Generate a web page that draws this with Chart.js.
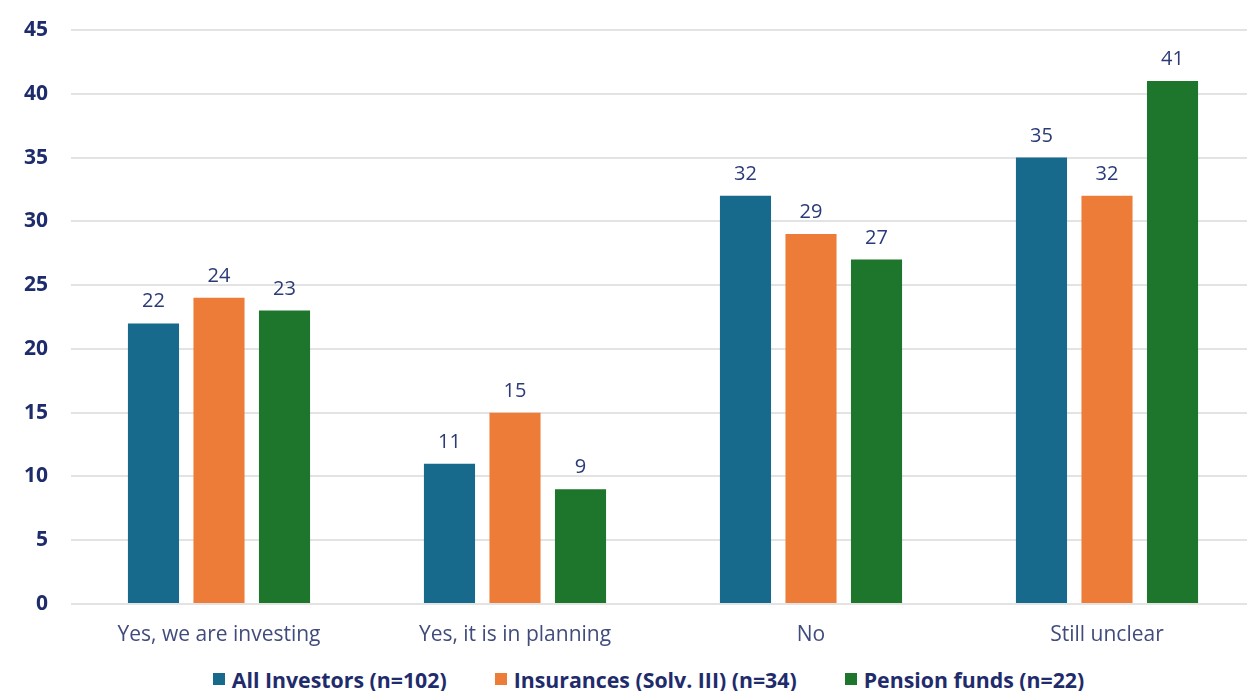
<!DOCTYPE html>
<html>
<head>
<meta charset="utf-8">
<script src="https://cdn.jsdelivr.net/npm/chart.js@4"></script>
<style>
  html, body { margin: 0; padding: 0; background: #fff; overflow: hidden; }
  #wrap { position: absolute; left: 0; top: 0; width: 1255px; height: 662px; }
  #legend {
    position: absolute; left: 0; top: 666px; width: 1247px; height: 26px;
    box-sizing: border-box; padding-left: 50px;
    display: flex; justify-content: center; align-items: center;
    font-family: "Open Sans", "Noto Sans", sans-serif; font-size: 21.3px; font-weight: bold;
    color: #1f2c6c;
  }
  #legend .item { display: flex; align-items: center; margin: 0 24px; white-space: nowrap; }
  #legend .box { width: 12px; height: 12px; margin-right: 7px; }
</style>
</head>
<body>
<div id="wrap"><canvas id="investChart"></canvas></div>
<div id="legend"></div>
<script>
var categories = ['Yes, we are investing', 'Yes, it is in planning', 'No', 'Still unclear'];
var allInvestors = [22, 11, 32, 35];
var insurances = [24, 15, 29, 32];
var pensionFunds = [23, 9, 27, 41];
var seriesNames = ['All Investors (n=102)', 'Insurances (Solv. III) (n=34)', 'Pension funds (n=22)'];
var seriesColors = ['#176a8b', '#ee7c39', '#1e752c'];
var yTicks = [0, 5, 10, 15, 20, 25, 30, 35, 40, 45];

var FONT = '"Open Sans", "Noto Sans", sans-serif';

// draws the value on top of each bar
var barValues = {
    id: 'barValues',
    afterDatasetsDraw: function(chart) {
        var ctx = chart.ctx;
        ctx.save();
        ctx.font = '20px ' + FONT;
        ctx.fillStyle = '#2b3a78';
        ctx.textAlign = 'center';
        ctx.textBaseline = 'alphabetic';
        chart.data.datasets.forEach(function(ds, i) {
            chart.getDatasetMeta(i).data.forEach(function(bar, j) {
                ctx.fillText(ds.data[j], bar.x, bar.y - 16);
            });
        });
        ctx.restore();
    }
};

// legend built from the chart datasets, placed under the canvas
function buildLegend(chart) {
    var legendDiv = document.getElementById('legend');
    legendDiv.innerHTML = '';
    chart.data.datasets.forEach(function(ds) {
        var item = document.createElement('div');
        item.className = 'item';
        var box = document.createElement('span');
        box.className = 'box';
        box.style.background = ds.backgroundColor;
        var text = document.createElement('span');
        text.textContent = ds.label;
        item.appendChild(box);
        item.appendChild(text);
        legendDiv.appendChild(item);
    });
}

function createChart() {
    var canvas = document.getElementById('investChart');
    var chart = new Chart(canvas, {
        type: 'bar',
        data: {
            labels: categories,
            datasets: [{
                label: seriesNames[0],
                data: allInvestors,
                backgroundColor: seriesColors[0]
            }, {
                label: seriesNames[1],
                data: insurances,
                backgroundColor: seriesColors[1]
            }, {
                label: seriesNames[2],
                data: pensionFunds,
                backgroundColor: seriesColors[2]
            }]
        },
        options: {
            responsive: true,
            maintainAspectRatio: false,
            animation: false,
            categoryPercentage: 0.664,
            barPercentage: 0.78,
            layout: { padding: { top: 30, right: 0, left: 0, bottom: 0 } },
            plugins: {
                legend: { display: false },
                tooltip: { enabled: false }
            },
            scales: {
                x: {
                    grid: { display: false },
                    border: { display: false },
                    ticks: {
                        color: '#414c7c',
                        padding: 10,
                        font: { family: FONT, size: 21 }
                    },
                    afterFit: function(scale) { scale.height = 58; }
                },
                y: {
                    min: 0,
                    max: 45,
                    afterBuildTicks: function(scale) {
                        scale.ticks = yTicks.map(function(v) { return { value: v }; });
                    },
                    grid: { color: '#e3e3e3', lineWidth: 2, drawTicks: false },
                    border: { display: false },
                    ticks: {
                        color: '#1f2c6c',
                        padding: 23,
                        font: { family: FONT, size: 21, weight: 'bold' }
                    },
                    afterFit: function(scale) {
                        scale.width = 71;
                        scale.paddingTop = 0;  // let layout.padding decide where the plot starts
                    }
                }
            }
        },
        plugins: [barValues]
    });
    buildLegend(chart);
}

window.onload = function() {
    createChart();
};
</script>
</body>
</html>
